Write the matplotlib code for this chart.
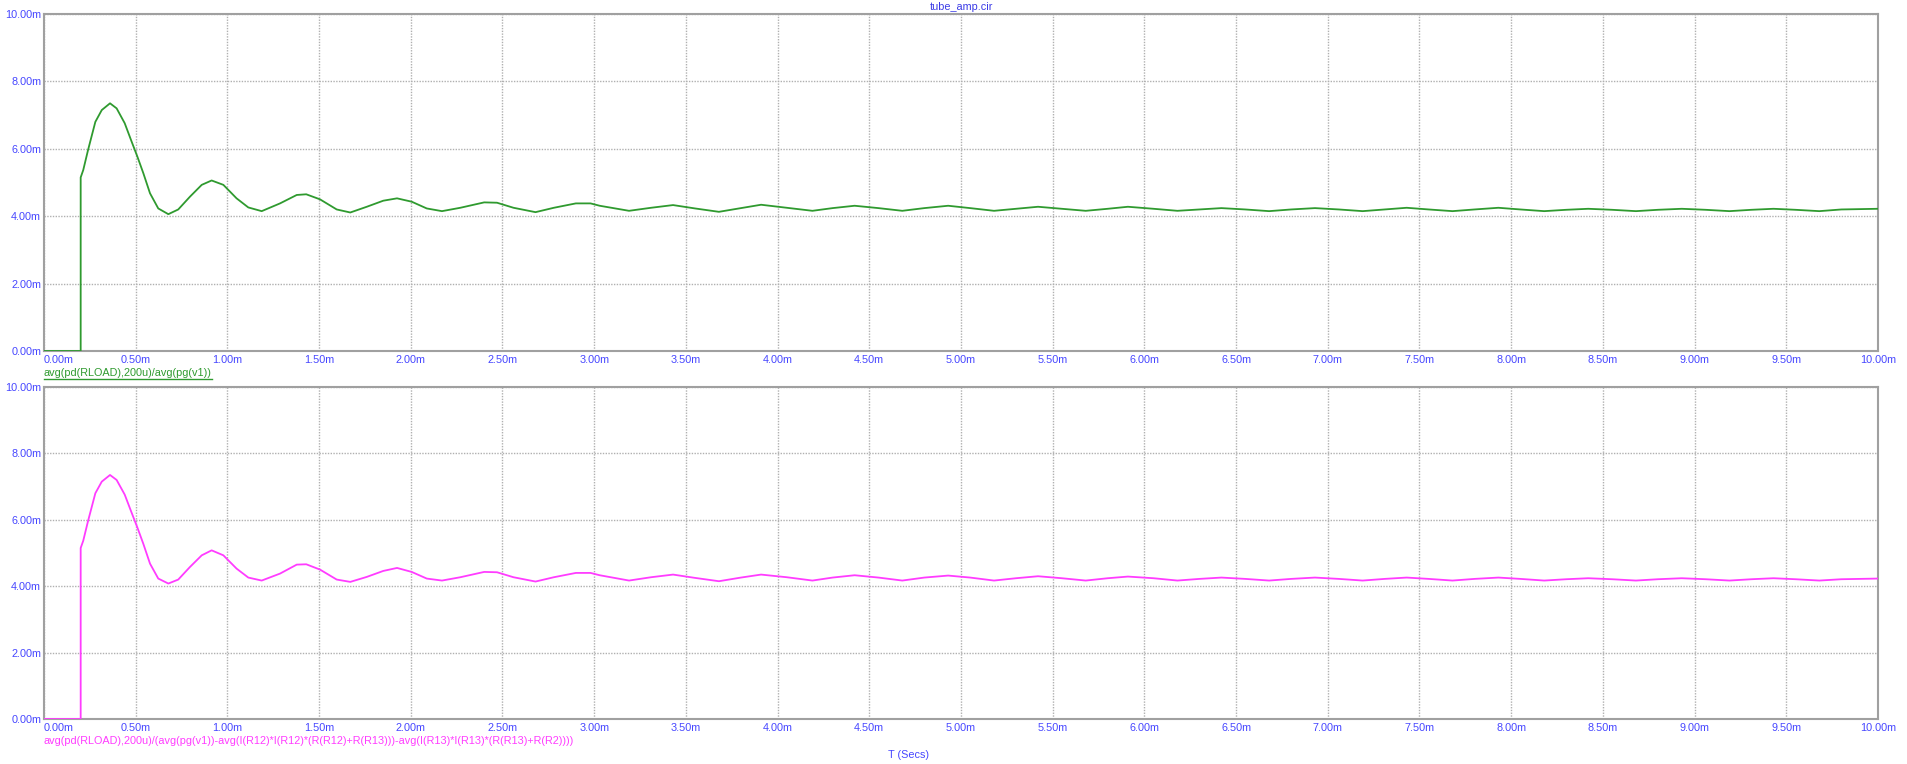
import matplotlib
matplotlib.use("Agg")
import matplotlib.pyplot as plt
from matplotlib.lines import Line2D

plt.rcParams['font.family'] = ['Liberation Sans', 'DejaVu Sans']

# time in ms, efficiency in m-units
t_ms = [0.0, 0.2, 0.2, 0.214, 0.24, 0.28, 0.315, 0.36, 0.396, 0.44,
        0.478, 0.509, 0.542, 0.578, 0.623, 0.678, 0.732, 0.796, 0.86, 0.914,
        0.978, 1.05, 1.114, 1.187, 1.287, 1.378, 1.43, 1.505, 1.596, 1.67,
        1.76, 1.85, 1.925, 2.005, 2.087, 2.17, 2.27, 2.40, 2.47, 2.56,
        2.68, 2.78, 2.90, 2.98, 3.03, 3.19, 3.31, 3.43, 3.55, 3.68,
        3.80, 3.91, 4.05, 4.19, 4.30, 4.42, 4.55, 4.68, 4.80, 4.93,
        5.05, 5.18, 5.30, 5.42, 5.55, 5.68, 5.80, 5.91, 6.05, 6.18,
        6.30, 6.42, 6.55, 6.68, 6.80, 6.93, 7.06, 7.19, 7.31, 7.43,
        7.55, 7.68, 7.80, 7.93, 8.05, 8.18, 8.30, 8.42, 8.55, 8.68,
        8.80, 8.93, 9.06, 9.19, 9.31, 9.43, 9.55, 9.68, 9.80, 10.0]

eff_raw = [0, 0, 5.15, 5.37, 5.96, 6.80, 7.15, 7.35, 7.20, 6.76,
           6.21, 5.77, 5.27, 4.68, 4.23, 4.06, 4.20, 4.58, 4.93, 5.06,
           4.93, 4.53, 4.26, 4.15, 4.38, 4.63, 4.65, 4.50, 4.20, 4.11,
           4.28, 4.46, 4.53, 4.43, 4.23, 4.15, 4.25, 4.41, 4.40, 4.25,
           4.12, 4.25, 4.38, 4.38, 4.31, 4.16, 4.25, 4.33, 4.23, 4.13,
           4.24, 4.34, 4.25, 4.16, 4.24, 4.31, 4.24, 4.16, 4.24, 4.31,
           4.24, 4.16, 4.22, 4.28, 4.22, 4.16, 4.22, 4.28, 4.22, 4.16,
           4.20, 4.24, 4.20, 4.15, 4.20, 4.24, 4.20, 4.15, 4.20, 4.25,
           4.20, 4.15, 4.20, 4.25, 4.20, 4.15, 4.19, 4.22, 4.19, 4.15,
           4.19, 4.22, 4.19, 4.15, 4.19, 4.22, 4.19, 4.15, 4.20, 4.22]

# second trace reads the same off the picture
eff_corr = [0, 0, 5.15, 5.37, 5.96, 6.80, 7.15, 7.35, 7.20, 6.76,
            6.21, 5.77, 5.27, 4.68, 4.23, 4.08, 4.20, 4.58, 4.93, 5.08,
            4.93, 4.53, 4.26, 4.17, 4.38, 4.65, 4.66, 4.50, 4.20, 4.13,
            4.28, 4.46, 4.55, 4.43, 4.23, 4.17, 4.27, 4.43, 4.42, 4.27,
            4.14, 4.27, 4.40, 4.40, 4.33, 4.17, 4.27, 4.35, 4.25, 4.15,
            4.26, 4.35, 4.27, 4.17, 4.26, 4.33, 4.26, 4.17, 4.26, 4.32,
            4.26, 4.17, 4.24, 4.30, 4.24, 4.17, 4.24, 4.29, 4.24, 4.17,
            4.22, 4.26, 4.22, 4.17, 4.22, 4.26, 4.22, 4.17, 4.22, 4.26,
            4.22, 4.17, 4.22, 4.26, 4.22, 4.17, 4.21, 4.24, 4.21, 4.17,
            4.21, 4.24, 4.21, 4.17, 4.21, 4.24, 4.21, 4.17, 4.21, 4.23]

x_ticks = [i * 0.5 for i in range(21)]
y_ticks = [0, 2, 4, 6, 8, 10]

label_top = "avg(pd(RLOAD),200u)/avg(pg(v1))"
label_bot = "avg(pd(RLOAD),200u)/(avg(pg(v1))-avg(I(R12)*I(R12)*(R(R12)+R(R13)))-avg(I(R13)*I(R13)*(R(R13)+R(R2))))"

W, H = 1908, 764
tick_blue = '#4646ff'
green = '#2f9a2f'
magenta = '#ff3cff'
fs = 7.8

fig = plt.figure(figsize=(W / 100, H / 100), dpi=100)
ax1 = fig.add_axes([44 / W, 1 - 351 / H, 1834 / W, 337 / H])
ax2 = fig.add_axes([44 / W, 1 - 719 / H, 1834 / W, 332 / H])


def style(ax):
    ax.set_xlim(0, 10)
    ax.set_ylim(0, 10)
    ax.set_xticks(x_ticks)
    ax.set_xticklabels(['%.2fm' % v for v in x_ticks])
    ax.set_yticks(y_ticks)
    ax.set_yticklabels(['%.2fm' % v for v in y_ticks])
    ax.tick_params(length=0, labelsize=fs, labelcolor=tick_blue, pad=3)
    ax.tick_params(axis='y', pad=2)
    ax.get_xticklabels()[0].set_ha('left')
    ax.grid(True, color='#b0b0b0', linestyle=(0, (1, 1)), linewidth=1)
    for s in ax.spines.values():
        s.set_color('#a0a0a0')
        s.set_linewidth(1.5)


ax1.plot(t_ms, eff_raw, color=green, lw=1.3, zorder=3)
ax2.plot(t_ms, eff_corr, color=magenta, lw=1.3, zorder=3)
style(ax1)
style(ax2)

fig.text(961 / W, 1 - 7 / H, "tube_amp.cir", ha='center', va='center',
         fontsize=fs, color='#3a3ae6')
t1 = fig.text(44 / W, 1 - 373 / H, label_top, ha='left', va='center',
              fontsize=fs, color=green)
fig.text(44 / W, 1 - 741 / H, label_bot, ha='left', va='center',
         fontsize=fs, color=magenta)
fig.text(909 / W, 1 - 755 / H, "T (Secs)", ha='center', va='center',
         fontsize=fs, color=tick_blue)

# underline for the top trace label
r = fig.canvas.get_renderer()
bb = t1.get_window_extent(renderer=r)
fig.add_artist(Line2D([bb.x0 / W, bb.x1 / W], [(bb.y0 - 1) / H, (bb.y0 - 1) / H],
                      transform=fig.transFigure, color=green, lw=1))

fig.savefig('out.png', dpi=100)
